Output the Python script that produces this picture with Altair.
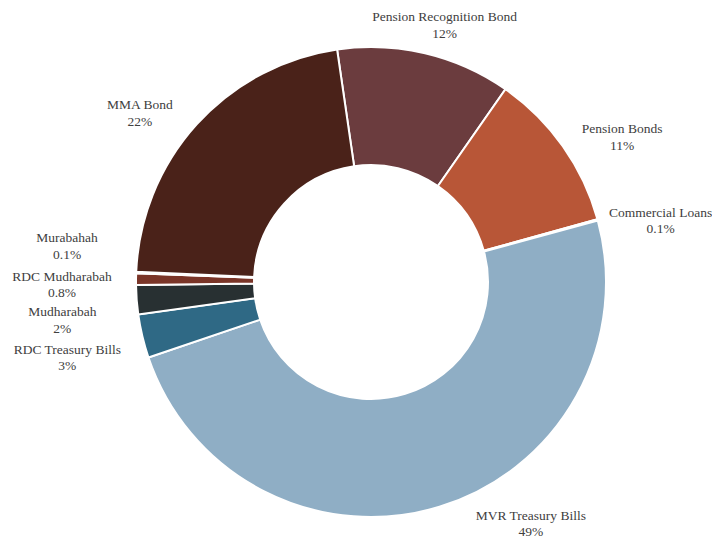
import math
import altair as alt
import pandas as pd

# Data (clockwise, starting from the Pension Recognition Bond slice)
categories = ["Pension Recognition Bond", "Pension Bonds", "Commercial Loans",
              "MVR Treasury Bills", "RDC Treasury Bills", "Mudharabah",
              "RDC Mudharabah", "Murabahah", "MMA Bond"]
shares = [12, 11, 0.1, 49, 3, 2, 0.8, 0.1, 22]
share_labels = ["12%", "11%", "0.1%", "49%", "3%", "2%", "0.8%", "0.1%", "22%"]

# Style / label layout (kept apart from the data)
colors = ["#6B3C3E", "#B85637", "#8FAEC5", "#8FAEC5", "#2F6985", "#283032",
          "#7A3528", "#8B4A3A", "#4A2219"]
label_nudge_deg = [2.7, 5.3, 3.4, -16.5, -0.7, -2.7, -1.2, 4.4, -6.0]
label_radius_px = [267, 290, 296, 290, 313, 311, 309, 306, 286]
start_deg = -8.3

df = pd.DataFrame({"name": categories, "value": shares, "pct": share_labels})
df["idx"] = range(len(df))
cum = df["value"].cumsum()
df["label_pos"] = cum - df["value"] / 2 + [d / 3.6 for d in label_nudge_deg]
df["label_r"] = label_radius_px
df["label"] = df["name"] + "\n" + df["pct"]

start = math.radians(start_deg)
theta_scale = alt.Scale(domain=[0, 100], range=[start, start + 2 * math.pi])

base = alt.Chart(df)

arcs = base.mark_arc(innerRadius=117, outerRadius=235, stroke="white", strokeWidth=2).encode(
    theta=alt.Theta("value:Q", stack=True, scale=theta_scale),
    color=alt.Color("name:N", scale=alt.Scale(domain=categories, range=colors), legend=None),
    order=alt.Order("idx:Q"),
)

labels = base.mark_text(
    font="Liberation Serif", fontSize=13.5, color="#404040", lineBreak="\n",
    align="center", baseline="middle", lineHeight=16.5, dy=-8,
).encode(
    theta=alt.Theta("label_pos:Q", stack=False, scale=theta_scale),
    radius=alt.Radius("label_r:Q", scale=None),
    text="label:N",
)

chart = alt.layer(arcs, labels).properties(
    width=682, height=496,
    autosize=alt.AutoSizeParams(type="none"),
    padding={"left": 22, "top": 26, "right": 0, "bottom": 8},
).configure_view(stroke=None).configure_text(font="Liberation Serif")

chart.save("out.html", embed_options={"renderer": "svg", "actions": False})
